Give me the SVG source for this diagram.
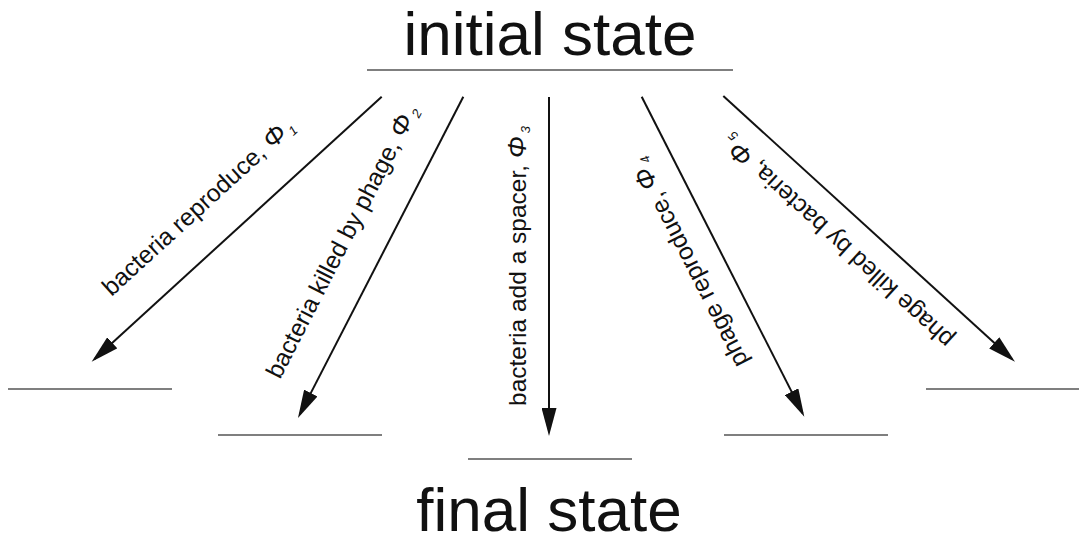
<svg xmlns="http://www.w3.org/2000/svg" width="1079" height="545" viewBox="0 0 1079 545">
<defs>
<style>
.title{font-family:"Liberation Sans",Arial,sans-serif;font-size:62px;fill:#111;text-anchor:middle}
.lbl{font-family:"Liberation Sans",Arial,sans-serif;font-size:24.5px;fill:#111}
.phi{font-style:italic;font-size:26px}
.sub{font-size:13px;font-style:italic}
.state{stroke:#555;stroke-width:1.6;fill:none}
.arr{stroke:#111;stroke-width:2;fill:none;marker-end:url(#ah)}
</style>
<marker id="ah" viewBox="0 0 28 15" markerWidth="28" markerHeight="15" refX="24" refY="7.5" orient="auto" markerUnits="userSpaceOnUse">
<path d="M0,0 L28,7.5 L0,15 z" fill="#111"/>
</marker>
</defs>
<rect width="1079" height="545" fill="#fff"/>
<g id="initial">
<text class="title" x="550" y="55">initial state</text>
<line class="state" x1="367" y1="70" x2="733" y2="70"/>
</g>
<g id="final1"><line class="state" x1="8" y1="389" x2="172" y2="389"/></g>
<g id="final2"><line class="state" x1="218" y1="435" x2="382" y2="435"/></g>
<g id="final3"><line class="state" x1="468" y1="459" x2="632" y2="459"/></g>
<g id="final4"><line class="state" x1="724" y1="435" x2="888" y2="435"/></g>
<g id="final5"><line class="state" x1="926" y1="389" x2="1079" y2="389"/></g>
<g id="final">
<text class="title" x="549" y="531">final state</text>
</g>
<g id="connectors">
<line class="arr" x1="381.7" y1="96.7" x2="94.6" y2="359"/>
<line class="arr" x1="463.3" y1="96.7" x2="299.8" y2="414.4"/>
<line class="arr" x1="549" y1="97" x2="549" y2="432"/>
<line class="arr" x1="641.7" y1="96.7" x2="802.5" y2="413.1"/>
<line class="arr" x1="723.3" y1="96" x2="1012" y2="359"/>
</g>
<g id="labels">
<text class="lbl" transform="translate(111.4,297) rotate(-42.4)">bacteria reproduce, <tspan class="phi">Φ</tspan><tspan class="sub" dx="3" dy="4">1</tspan></text>
<text class="lbl" transform="translate(280,380) rotate(-62.76)">bacteria killed by phage, <tspan class="phi">Φ</tspan><tspan class="sub" dx="3" dy="4">2</tspan></text>
<text class="lbl" transform="translate(525.5,406) rotate(-90)">bacteria add a spacer, <tspan class="phi">Φ</tspan><tspan class="sub" dx="3" dy="4">3</tspan></text>
<text class="lbl" transform="translate(748.7,362) rotate(-116.95)">phage reproduce, <tspan class="phi">Φ</tspan><tspan class="sub" dx="3" dy="4">4</tspan></text>
<text class="lbl" transform="translate(955,337.5) rotate(-137.67)">phage killed by bacteria, <tspan class="phi">Φ</tspan><tspan class="sub" dx="3" dy="4">5</tspan></text>
</g>
</svg>
